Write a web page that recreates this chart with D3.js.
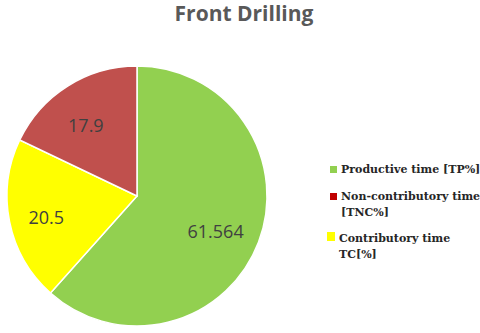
<!DOCTYPE html>
<html>
<head>
<meta charset="utf-8">
<script src="https://cdn.jsdelivr.net/npm/d3@7"></script>
<style>
  body { margin: 0; background: #fff; }
</style>
</head>
<body>
<div id="chart"></div>
<script>
// data
var categories = ["Productive time [TP%]", "Contributory time TC[%]", "Non-contributory time [TNC%]"];
var values = [61.564, 20.5, 17.9];
var valueLabels = ["61.564", "20.5", "17.9"];
var legendOrder = [0, 2, 1];
var legendLines = [["Productive time [TP%]"], ["Non-contributory time", "[TNC%]"], ["Contributory time", "TC[%]"]];

var width = 480, height = 333;
var cx = 137, cy = 196, radius = 130;

var svg = d3.select("#chart")
  .append("svg")
  .attr("width", width)
  .attr("height", height);

var color = d3.scaleOrdinal()
  .domain(categories)
  .range(["#92D050", "#FFFF00", "#C0504D"]);

var legendColor = d3.scaleOrdinal()
  .domain(categories)
  .range(["#92D050", "#FFFF00", "#C00000"]);

// title
svg.append("text")
  .attr("x", 244)
  .attr("y", 21)
  .attr("text-anchor", "middle")
  .attr("font-family", "'Open Sans', sans-serif")
  .attr("font-weight", "bold")
  .attr("font-size", "21px")
  .attr("fill", "#595959")
  .text("Front Drilling");

////////////////////////////// pie //////////////////////////////
var pie = d3.pie()
  .sort(null)
  .value(function(d) { return d; });

var arc = d3.arc()
  .innerRadius(0)
  .outerRadius(radius);

var labelArc = d3.arc()
  .innerRadius(radius * 0.68)
  .outerRadius(radius * 0.68);

var g = svg.append("g")
  .attr("transform", "translate(" + cx + "," + cy + ")");

var slices = g.selectAll(".slice")
  .data(pie(values))
  .enter()
  .append("g")
  .attr("class", "slice");

slices.append("path")
  .attr("d", arc)
  .attr("fill", function(d, i) { return color(categories[i]); })
  .attr("stroke", "#fff")
  .attr("stroke-width", 1.5);

slices.append("text")
  .attr("transform", function(d) {
    var c = labelArc.centroid(d);
    return "translate(" + (c[0] - 4) + "," + (c[1] + 4) + ")";
  })
  .attr("dy", "0.35em")
  .attr("text-anchor", "middle")
  .attr("font-family", "'Open Sans', sans-serif")
  .attr("font-size", "18px")
  .attr("fill", "#404040")
  .text(function(d, i) { return valueLabels[i]; });

////////////////////////////// legend //////////////////////////////
var legendY = [173, 200, 242];

var legend = svg.selectAll(".legend")
  .data(legendOrder)
  .enter()
  .append("g")
  .attr("class", "legend")
  .attr("transform", function(d, i) { return "translate(330," + legendY[i] + ")"; });

legend.append("rect")
  .attr("x", function(d, i) { return i === 2 ? -3 : 0; })
  .attr("y", function(d, i) { return i === 2 ? -10 : -7; })
  .attr("width", function(d, i) { return i === 2 ? 8 : 7; })
  .attr("height", function(d, i) { return i === 2 ? 9 : 7; })
  .attr("fill", function(d) { return legendColor(categories[d]); });

legend.each(function(d, i) {
  var t = d3.select(this).append("text")
    .attr("x", i === 2 ? 9 : 11)
    .attr("font-family", "'DejaVu Serif', serif")
    .attr("font-weight", "bold")
    .attr("font-size", "11px")
    .attr("fill", "#262626");
  legendLines[i].forEach(function(line, j) {
    t.append("tspan")
      .attr("x", i === 2 ? 9 : 11)
      .attr("dy", j === 0 ? 0 : 16)
      .text(line);
  });
});
</script>
</body>
</html>
